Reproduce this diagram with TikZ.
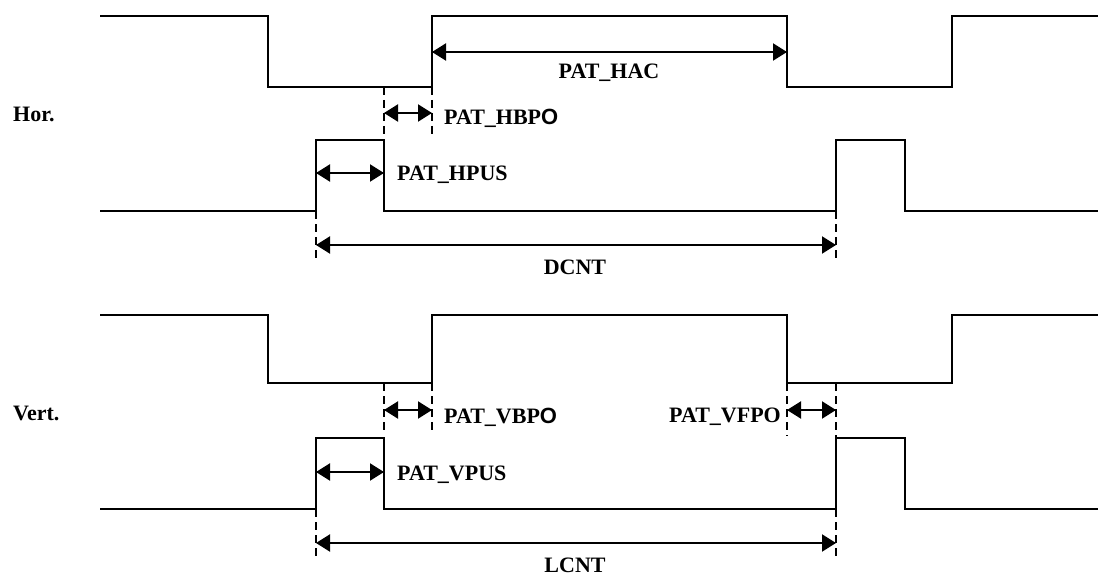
\documentclass[tikz,border=0pt]{standalone}
\usepackage{fontspec}
\setmainfont{Liberation Serif}
\newfontfamily\sansfam{Liberation Sans}
\usetikzlibrary{arrows.meta}

\begin{document}
\begin{tikzpicture}[x=1pt,y=-1pt,
  wave/.style={line width=2pt, line join=miter},
  guide/.style={line width=1.7pt, dash pattern=on 8pt off 5pt},
  span/.style={line width=2pt,
    {Triangle[length=14pt,width=17pt]}-{Triangle[length=14pt,width=17pt]}},
  lbl/.style={font=\fontsize{22}{26}\selectfont\bfseries, inner sep=0pt},
]
\useasboundingbox (0,0) rectangle (1098,575);

% ---------------- horizontal timing ----------------
% sync / active line
\draw[wave] (100,16) -| (268,87) -| (432,16) -| (787,87) -| (952,16) -- (1098,16);
% pulse line
\draw[wave] (100,211) -| (316,140) -| (384,211) -| (836,140) -| (905,211) -- (1098,211);

% guides
\draw[guide] (384,87)  -- (384,136);
\draw[guide] (432,87)  -- (432,136);
\draw[guide] (316,211) -- (316,258);
\draw[guide] (836,211) -- (836,258);

% span end points
\coordinate (hacL) at (432,52);   \coordinate (hacR) at (787,52);
\coordinate (hbpoL) at (384,113); \coordinate (hbpoR) at (432,113);
\coordinate (hpusL) at (316,173); \coordinate (hpusR) at (384,173);
\coordinate (dcntL) at (316,245); \coordinate (dcntR) at (836,245);

\draw[span] (hacL) -- (hacR);
\draw[span] (hbpoL) -- (hbpoR);
\draw[span] (hpusL) -- (hpusR);
\draw[span] (dcntL) -- (dcntR);

\node[lbl, anchor=base west] (hor) at (13,122) {Hor.};
\node[lbl, anchor=base] (hac) at (609,79) {PAT\_HAC};
\node[lbl, anchor=base west] (hbpo) at (444,125) {PAT\_HBP{\sansfam O}};
\node[lbl, anchor=base west] (hpus) at (397,181) {PAT\_HPUS};
\node[lbl, anchor=base] (dcnt) at (575,274) {DCNT};

% ---------------- vertical timing ----------------
\draw[wave] (100,315) -| (268,383) -| (432,315) -| (787,383) -| (952,315) -- (1098,315);
\draw[wave] (100,509) -| (316,438) -| (384,509) -| (836,438) -| (905,509) -- (1098,509);

\draw[guide] (384,383) -- (384,434);
\draw[guide] (432,383) -- (432,434);
\draw[guide] (787,383) -- (787,436);
\draw[guide] (836,383) -- (836,438);
\draw[guide] (316,509) -- (316,556);
\draw[guide] (836,509) -- (836,556);

\coordinate (vbpoL) at (384,410); \coordinate (vbpoR) at (432,410);
\coordinate (vfpoL) at (787,410); \coordinate (vfpoR) at (836,410);
\coordinate (vpusL) at (316,472); \coordinate (vpusR) at (384,472);
\coordinate (lcntL) at (316,543); \coordinate (lcntR) at (836,543);

\draw[span] (vbpoL) -- (vbpoR);
\draw[span] (vfpoL) -- (vfpoR);
\draw[span] (vpusL) -- (vpusR);
\draw[span] (lcntL) -- (lcntR);

\node[lbl, anchor=base west] (vert) at (13,420) {Vert.};
\node[lbl, anchor=base west] (vbpo) at (444,423) {PAT\_VBP{\sansfam O}};
\node[lbl, anchor=base east] (vfpo) at (781,422) {PAT\_VFPO};
\node[lbl, anchor=base west] (vpus) at (397,480) {PAT\_VPUS};
\node[lbl, anchor=base] (lcnt) at (575,572) {LCNT};
\end{tikzpicture}
\end{document}
